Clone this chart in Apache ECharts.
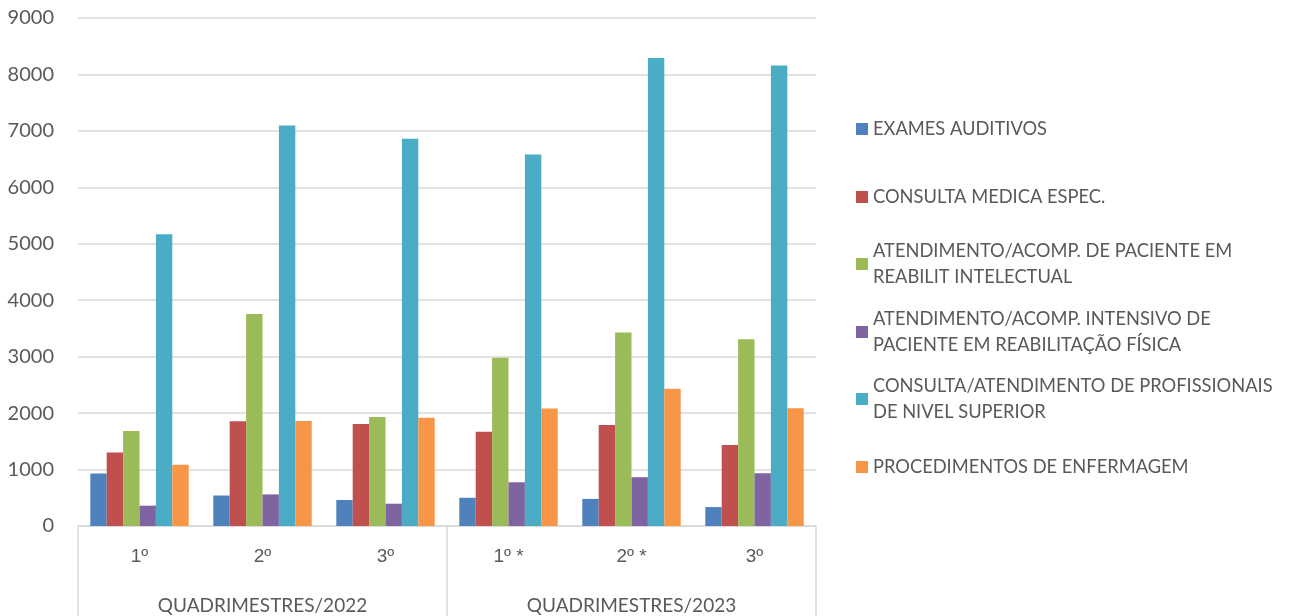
<!DOCTYPE html>
<html>
<head>
<meta charset="utf-8">
<script src="https://cdn.jsdelivr.net/npm/echarts@6/dist/echarts.min.js"></script>
<style>
  html, body { margin: 0; padding: 0; background: #fff; }
  #chart { width: 1289px; height: 616px; }
</style>
</head>
<body>
<div id="chart"></div>
<script>
// Quadrimester labels (inner axis) and year groups (outer axis)
const quadrimestres = ['1º', '2º', '3º', '1º *', '2º *', '3º'];
const anos = ['QUADRIMESTRES/2022', 'QUADRIMESTRES/2023'];

// Procedure names and their legend text (wrapped as in the legend)
const procedimentos = [
  'EXAMES AUDITIVOS',
  'CONSULTA MEDICA ESPEC.',
  'ATENDIMENTO/ACOMP. DE PACIENTE EM REABILIT INTELECTUAL',
  'ATENDIMENTO/ACOMP. INTENSIVO DE PACIENTE EM REABILITAÇÃO FÍSICA',
  'CONSULTA/ATENDIMENTO DE PROFISSIONAIS DE NIVEL SUPERIOR',
  'PROCEDIMENTOS DE ENFERMAGEM'
];
const legendaTexto = [
  ['EXAMES AUDITIVOS'],
  ['CONSULTA MEDICA ESPEC.'],
  ['ATENDIMENTO/ACOMP. DE PACIENTE EM', 'REABILIT INTELECTUAL'],
  ['ATENDIMENTO/ACOMP. INTENSIVO DE', 'PACIENTE EM REABILITAÇÃO FÍSICA'],
  ['CONSULTA/ATENDIMENTO DE PROFISSIONAIS', 'DE NIVEL SUPERIOR'],
  ['PROCEDIMENTOS DE ENFERMAGEM']
];

// Values per procedure, one per quadrimester
const examesAuditivos      = [930, 540, 460, 500, 480, 335];
const consultaMedica       = [1300, 1855, 1805, 1670, 1790, 1435];
const reabilitIntelectual  = [1685, 3755, 1930, 2980, 3430, 3310];
const reabilitFisica       = [360, 560, 395, 775, 865, 935];
const nivelSuperior        = [5170, 7095, 6860, 6580, 8290, 8160];
const enfermagem           = [1085, 1860, 1920, 2080, 2430, 2085];

const valores = [examesAuditivos, consultaMedica, reabilitIntelectual,
                 reabilitFisica, nivelSuperior, enfermagem];
const cores = ['#4F81BD', '#C0504D', '#9BBB59', '#8064A2', '#4BACC6', '#F79646'];

const fonte = 'Lato, "Open Sans", sans-serif';
const fonteOrdinal = '"Liberation Sans", "DejaVu Sans", sans-serif';
const cinzaTexto = '#595959';
const cinzaLinha = '#D9D9D9';

// One legend per entry so the swatch sits beside the first text line
const iconeY = [129, 197, 264, 332, 399, 467];
const linha = 26;
const legendas = procedimentos.map((nome, i) => {
  const duasLinhas = legendaTexto[i].length > 1;
  return {
    orient: 'vertical',
    left: 856,
    top: duasLinhas ? iconeY[i] - linha * 1.5 : iconeY[i] - linha / 2,
    padding: 0,
    itemWidth: 12,
    itemHeight: 12,
    itemGap: 0,
    icon: 'rect',
    selectedMode: false,
    data: [nome],
    formatter: () => legendaTexto[i].join('\n'),
    textStyle: {
      fontFamily: fonte,
      fontSize: 18.3,
      color: cinzaTexto,
      lineHeight: linha,
      padding: duasLinhas ? [linha, 0, 0, 0] : 0
    }
  };
});

const chart = echarts.init(document.getElementById('chart'), null, { renderer: 'canvas' });

chart.setOption({
  animation: false,
  backgroundColor: '#ffffff',
  color: cores,
  legend: legendas,
  grid: { left: 78, right: 473, top: 18, bottom: 90, containLabel: false },
  xAxis: [
    {
      type: 'category',
      data: quadrimestres,
      position: 'bottom',
      axisLine: { show: true, lineStyle: { color: cinzaLinha, width: 1.5 } },
      axisTick: { show: false },
      axisLabel: { margin: 21, fontFamily: fonteOrdinal, fontSize: 19, color: cinzaTexto }
    },
    {
      type: 'category',
      data: anos,
      position: 'bottom',
      axisLine: { show: false },
      axisTick: { show: true, length: 92, lineStyle: { color: cinzaLinha, width: 1.5 } },
      axisLabel: { margin: 70, fontFamily: fonte, fontSize: 19, color: cinzaTexto }
    }
  ],
  yAxis: {
    type: 'value',
    min: 0,
    max: 9000,
    interval: 1000,
    axisLine: { show: false },
    axisTick: { show: false },
    splitLine: { lineStyle: { color: cinzaLinha, width: 1.5 } },
    axisLabel: {
      margin: 24,
      fontFamily: fonte,
      fontSize: 20,
      color: cinzaTexto,
      formatter: (v) => String(v)
    }
  },
  series: procedimentos.map((nome, i) => ({
    name: nome,
    type: 'bar',
    xAxisIndex: 0,
    data: valores[i],
    barGap: '0%',
    barCategoryGap: '20%',
    itemStyle: { color: cores[i] }
  }))
});
</script>
</body>
</html>
